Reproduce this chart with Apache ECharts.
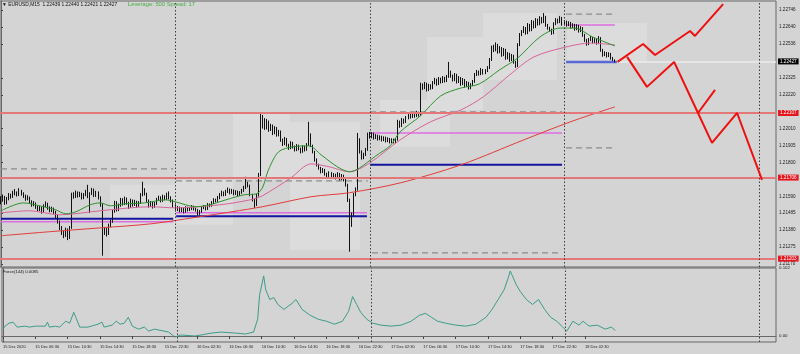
<!DOCTYPE html>
<html><head><meta charset="utf-8">
<script src="https://cdn.jsdelivr.net/npm/echarts@6/dist/echarts.min.js"></script>
<style>html,body{margin:0;padding:0;background:#d4d4d4;}#c{width:800px;height:354px;}</style>
</head><body><div id="c"></div>
<script>
// ---------------- data ----------------
const symbolName = 'EURUSD,M15';
const lastOHLC = [1.22439, 1.22440, 1.22421, 1.22427]; // O H L C shown in header
const leverageText = 'Leverage: 500 Spread: 17';
const forceName = 'Force(144)';
const xTickLabels = ['15 Dec 2020','15 Dec 06:30','15 Dec 10:30','15 Dec 14:30','15 Dec 18:30','15 Dec 22:30',
  '16 Dec 02:30','16 Dec 06:30','16 Dec 10:30','16 Dec 14:30','16 Dec 18:30','16 Dec 22:30',
  '17 Dec 02:30','17 Dec 06:30','17 Dec 10:30','17 Dec 14:30','17 Dec 18:30','17 Dec 22:30','18 Dec 02:30'];
const yTickValues = [1.21170,1.21275,1.21380,1.21485,1.21590,1.21800,1.21905,1.22010,1.22220,1.22325,1.22536,1.22640,1.22746];
const forceTickValues = [0.102, 0, -0.0042];
const daySeparators = [86, 182, 278, 374];
// candles: [open, close, low, high]
const candles = [
[1.21555,1.21568,1.21540,1.21590],[1.21568,1.21580,1.21556,1.21601],[1.21580,1.21549,1.21537,1.21592],[1.21549,1.21574,1.21540,1.21586],
[1.21574,1.21593,1.21565,1.21610],[1.21593,1.21587,1.21575,1.21606],[1.21587,1.21605,1.21580,1.21624],[1.21605,1.21612,1.21596,1.21635],
[1.21612,1.21599,1.21588,1.21620],[1.21599,1.21618,1.21592,1.21640],[1.21618,1.21605,1.21594,1.21630],[1.21605,1.21593,1.21580,1.21615],
[1.21593,1.21574,1.21562,1.21600],[1.21574,1.21580,1.21565,1.21596],[1.21580,1.21556,1.21545,1.21588],[1.21556,1.21537,1.21525,1.21565],
[1.21537,1.21543,1.21528,1.21560],[1.21543,1.21525,1.21512,1.21552],[1.21525,1.21506,1.21494,1.21533],[1.21506,1.21518,1.21498,1.21530],
[1.21518,1.21494,1.21482,1.21525],[1.21494,1.21531,1.21488,1.21540],[1.21531,1.21543,1.21522,1.21558],[1.21543,1.21518,1.21506,1.21550],
[1.21518,1.21500,1.21490,1.21528],[1.21500,1.21512,1.21492,1.21525],[1.21512,1.21494,1.21480,1.21520],[1.21494,1.21469,1.21455,1.21500],
[1.21469,1.21432,1.21420,1.21475],[1.21432,1.21394,1.21380,1.21440],[1.21394,1.21363,1.21350,1.21405],[1.21363,1.21345,1.21330,1.21375],
[1.21345,1.21382,1.21338,1.21395],[1.21382,1.21332,1.21318,1.21390],[1.21332,1.21394,1.21325,1.21405],[1.21394,1.21599,1.21388,1.21612],
[1.21599,1.21587,1.21575,1.21615],[1.21587,1.21612,1.21580,1.21625],[1.21612,1.21593,1.21582,1.21620],[1.21593,1.21605,1.21585,1.21618],
[1.21605,1.21580,1.21570,1.21612],[1.21580,1.21599,1.21572,1.21610],[1.21599,1.21618,1.21590,1.21630],[1.21618,1.21587,1.21578,1.21661],
[1.21587,1.21605,1.21487,1.21615],[1.21605,1.21630,1.21598,1.21642],[1.21630,1.21593,1.21585,1.21638],[1.21593,1.21612,1.21586,1.21624],
[1.21612,1.21580,1.21570,1.21620],[1.21580,1.21537,1.21525,1.21590],[1.21537,1.21370,1.21221,1.21545],[1.21370,1.21382,1.21350,1.21400],
[1.21382,1.21357,1.21340,1.21395],[1.21357,1.21407,1.21350,1.21420],[1.21407,1.21432,1.21398,1.21445],[1.21432,1.21494,1.21425,1.21505],
[1.21494,1.21549,1.21488,1.21562],[1.21549,1.21506,1.21495,1.21560],[1.21506,1.21531,1.21498,1.21545],[1.21531,1.21568,1.21525,1.21580],
[1.21568,1.21543,1.21532,1.21578],[1.21543,1.21574,1.21536,1.21588],[1.21574,1.21549,1.21538,1.21582],[1.21549,1.21525,1.21512,1.21556],
[1.21525,1.21562,1.21518,1.21575],[1.21562,1.21537,1.21526,1.21570],[1.21537,1.21556,1.21530,1.21568],[1.21556,1.21531,1.21520,1.21562],
[1.21531,1.21549,1.21524,1.21560],[1.21549,1.21599,1.21542,1.21610],[1.21599,1.21630,1.21590,1.21680],[1.21630,1.21605,1.21595,1.21640],
[1.21605,1.21562,1.21550,1.21612],[1.21562,1.21531,1.21520,1.21570],[1.21531,1.21549,1.21524,1.21560],[1.21549,1.21525,1.21514,1.21556],
[1.21525,1.21543,1.21518,1.21555],[1.21543,1.21568,1.21536,1.21580],[1.21568,1.21580,1.21560,1.21594],[1.21580,1.21562,1.21552,1.21590],
[1.21562,1.21587,1.21555,1.21600],[1.21587,1.21574,1.21565,1.21596],[1.21574,1.21599,1.21567,1.21612],[1.21599,1.21580,1.21570,1.21620],
[1.21580,1.21562,1.21552,1.21590],[1.21562,1.21531,1.21520,1.21570],[1.21531,1.21506,1.21495,1.21540],[1.21506,1.21518,1.21498,1.21530],
[1.21518,1.21500,1.21490,1.21526],[1.21500,1.21512,1.21492,1.21522],[1.21512,1.21494,1.21484,1.21520],[1.21494,1.21518,1.21488,1.21528],
[1.21518,1.21506,1.21496,1.21525],[1.21506,1.21512,1.21498,1.21522],[1.21512,1.21525,1.21504,1.21535],[1.21525,1.21512,1.21502,1.21532],
[1.21512,1.21506,1.21495,1.21520],[1.21506,1.21481,1.21470,1.21512],[1.21481,1.21494,1.21472,1.21505],[1.21494,1.21518,1.21488,1.21528],
[1.21518,1.21525,1.21510,1.21536],[1.21525,1.21512,1.21502,1.21532],[1.21512,1.21537,1.21505,1.21548],[1.21537,1.21531,1.21522,1.21545],
[1.21531,1.21549,1.21525,1.21560],[1.21549,1.21568,1.21542,1.21578],[1.21568,1.21562,1.21552,1.21575],[1.21562,1.21580,1.21555,1.21592],
[1.21580,1.21599,1.21572,1.21610],[1.21599,1.21612,1.21590,1.21625],[1.21612,1.21599,1.21590,1.21620],[1.21599,1.21618,1.21592,1.21630],
[1.21618,1.21630,1.21610,1.21645],[1.21630,1.21612,1.21602,1.21638],[1.21612,1.21624,1.21605,1.21636],[1.21624,1.21605,1.21596,1.21632],
[1.21605,1.21618,1.21598,1.21628],[1.21618,1.21599,1.21590,1.21625],[1.21599,1.21612,1.21592,1.21622],[1.21612,1.21624,1.21605,1.21636],
[1.21624,1.21642,1.21617,1.21655],[1.21642,1.21667,1.21635,1.21711],[1.21667,1.21655,1.21645,1.21680],[1.21655,1.21599,1.21590,1.21662],
[1.21599,1.21568,1.21558,1.21605],[1.21568,1.21537,1.21518,1.21575],[1.21537,1.21593,1.21530,1.21605],[1.21593,1.21723,1.21588,1.21735],
[1.21723,1.22033,1.21715,1.22107],[1.22033,1.22064,1.22010,1.22095],[1.22064,1.22014,1.22002,1.22075],[1.22014,1.22052,1.22005,1.22070],
[1.22052,1.22002,1.21990,1.22060],[1.22002,1.22027,1.21995,1.22040],[1.22027,1.21983,1.21970,1.22035],[1.21983,1.22014,1.21975,1.22025],
[1.22014,1.21971,1.21960,1.22020],[1.21971,1.21990,1.21962,1.22002],[1.21990,1.21940,1.21928,1.21998],[1.21940,1.21915,1.21902,1.21948],
[1.21915,1.21946,1.21908,1.21958],[1.21946,1.21909,1.21898,1.21952],[1.21909,1.21890,1.21878,1.21916],[1.21890,1.21921,1.21882,1.21932],
[1.21921,1.21897,1.21886,1.21928],[1.21897,1.21878,1.21868,1.21905],[1.21878,1.21903,1.21870,1.21914],[1.21903,1.21884,1.21875,1.21910],
[1.21884,1.21866,1.21856,1.21892],[1.21866,1.21897,1.21860,1.21906],[1.21897,1.21878,1.21868,1.21904],[1.21878,1.21909,1.21872,1.21920],
[1.21909,1.21971,1.21902,1.22052],[1.21971,1.21903,1.21895,1.21980],[1.21903,1.21866,1.21856,1.21910],[1.21866,1.21816,1.21805,1.21872],
[1.21816,1.21785,1.21775,1.21825],[1.21785,1.21766,1.21755,1.21792],[1.21766,1.21742,1.21732,1.21772],[1.21742,1.21754,1.21735,1.21765],
[1.21754,1.21729,1.21718,1.21760],[1.21729,1.21717,1.21706,1.21736],[1.21717,1.21735,1.21710,1.21745],[1.21735,1.21711,1.21700,1.21740],
[1.21711,1.21723,1.21704,1.21734],[1.21723,1.21704,1.21694,1.21730],[1.21704,1.21729,1.21698,1.21740],[1.21729,1.21698,1.21688,1.21735],
[1.21698,1.21717,1.21690,1.21728],[1.21717,1.21692,1.21682,1.21724],[1.21692,1.21661,1.21650,1.21700],[1.21661,1.21568,1.21555,1.21668],
[1.21568,1.21413,1.21246,1.21575],[1.21413,1.21475,1.21400,1.21490],[1.21475,1.21599,1.21468,1.21610],[1.21599,1.21630,1.21590,1.21645],
[1.21630,1.21940,1.21625,1.21983],[1.21940,1.21866,1.21855,1.21950],[1.21866,1.21828,1.21818,1.21875],[1.21828,1.21847,1.21820,1.21860],
[1.21847,1.21878,1.21840,1.21890],[1.21878,1.21971,1.21872,1.21985],[1.21971,1.21959,1.21948,1.21990],[1.21959,1.21977,1.21950,1.21988],
[1.21977,1.21952,1.21942,1.21985],[1.21952,1.21965,1.21945,1.21976],[1.21965,1.21946,1.21936,1.21972],[1.21946,1.21959,1.21938,1.21968],
[1.21959,1.21940,1.21930,1.21966],[1.21940,1.21952,1.21932,1.21962],[1.21952,1.21934,1.21924,1.21960],[1.21934,1.21946,1.21926,1.21956],
[1.21946,1.21928,1.21918,1.21952],[1.21928,1.21940,1.21920,1.21950],[1.21940,1.21928,1.21918,1.21948],[1.21928,1.21940,1.21920,1.21950],
[1.21940,1.22052,1.21935,1.22065],[1.22052,1.22027,1.22015,1.22060],[1.22027,1.22064,1.22020,1.22076],[1.22064,1.22052,1.22040,1.22072],
[1.22052,1.22076,1.22045,1.22088],[1.22076,1.22095,1.22068,1.22108],[1.22095,1.22083,1.22072,1.22102],[1.22083,1.22101,1.22076,1.22114],
[1.22101,1.22089,1.22078,1.22110],[1.22089,1.22107,1.22082,1.22120],[1.22107,1.22095,1.22085,1.22115],[1.22095,1.22281,1.22090,1.22295],
[1.22281,1.22262,1.22250,1.22290],[1.22262,1.22287,1.22255,1.22300],[1.22287,1.22250,1.22240,1.22295],[1.22250,1.22275,1.22243,1.22288],
[1.22275,1.22262,1.22252,1.22285],[1.22262,1.22293,1.22255,1.22305],[1.22293,1.22312,1.22285,1.22325],[1.22312,1.22287,1.22276,1.22320],
[1.22287,1.22318,1.22280,1.22330],[1.22318,1.22300,1.22290,1.22326],[1.22300,1.22324,1.22293,1.22336],[1.22324,1.22306,1.22296,1.22332],
[1.22306,1.22331,1.22299,1.22343],[1.22331,1.22362,1.22325,1.22424],[1.22362,1.22337,1.22326,1.22370],[1.22337,1.22312,1.22302,1.22345],
[1.22312,1.22343,1.22305,1.22355],[1.22343,1.22300,1.22290,1.22350],[1.22300,1.22324,1.22293,1.22336],[1.22324,1.22287,1.22276,1.22330],
[1.22287,1.22312,1.22280,1.22324],[1.22312,1.22275,1.22265,1.22318],[1.22275,1.22293,1.22268,1.22305],[1.22293,1.22262,1.22252,1.22300],
[1.22262,1.22281,1.22255,1.22292],[1.22281,1.22300,1.22274,1.22312],[1.22300,1.22343,1.22294,1.22355],[1.22343,1.22362,1.22336,1.22374],
[1.22362,1.22349,1.22339,1.22370],[1.22349,1.22374,1.22342,1.22386],[1.22374,1.22355,1.22345,1.22380],[1.22355,1.22368,1.22348,1.22379],
[1.22368,1.22386,1.22361,1.22398],[1.22386,1.22436,1.22380,1.22448],[1.22436,1.22510,1.22430,1.22525],[1.22510,1.22498,1.22485,1.22530],
[1.22498,1.22529,1.22490,1.22545],[1.22529,1.22486,1.22475,1.22536],[1.22486,1.22510,1.22478,1.22522],[1.22510,1.22467,1.22456,1.22516],
[1.22467,1.22498,1.22460,1.22510],[1.22498,1.22448,1.22437,1.22505],[1.22448,1.22473,1.22440,1.22485],[1.22473,1.22436,1.22425,1.22480],
[1.22436,1.22461,1.22429,1.22473],[1.22461,1.22424,1.22413,1.22468],[1.22424,1.22399,1.22387,1.22430],[1.22399,1.22529,1.22392,1.22540],
[1.22529,1.22591,1.22522,1.22603],[1.22591,1.22610,1.22584,1.22622],[1.22610,1.22634,1.22603,1.22646],[1.22634,1.22603,1.22593,1.22640],
[1.22603,1.22653,1.22596,1.22665],[1.22653,1.22622,1.22612,1.22660],[1.22622,1.22672,1.22615,1.22684],[1.22672,1.22641,1.22631,1.22680],
[1.22641,1.22684,1.22634,1.22696],[1.22684,1.22659,1.22649,1.22692],[1.22659,1.22696,1.22652,1.22708],[1.22696,1.22672,1.22662,1.22703],
[1.22672,1.22703,1.22665,1.22727],[1.22703,1.22653,1.22642,1.22710],[1.22653,1.22634,1.22624,1.22660],[1.22634,1.22622,1.22612,1.22642],
[1.22622,1.22603,1.22592,1.22630],[1.22603,1.22659,1.22596,1.22670],[1.22659,1.22684,1.22652,1.22696],[1.22684,1.22672,1.22662,1.22692],
[1.22672,1.22696,1.22665,1.22708],[1.22696,1.22659,1.22649,1.22703],[1.22659,1.22672,1.22650,1.22684],[1.22672,1.22653,1.22643,1.22680],
[1.22653,1.22665,1.22646,1.22676],[1.22665,1.22641,1.22631,1.22672],[1.22641,1.22653,1.22634,1.22664],[1.22653,1.22628,1.22618,1.22660],
[1.22628,1.22647,1.22621,1.22658],[1.22647,1.22616,1.22606,1.22654],[1.22616,1.22634,1.22609,1.22645],[1.22634,1.22591,1.22580,1.22640],
[1.22591,1.22560,1.22548,1.22598],[1.22560,1.22535,1.22524,1.22567],[1.22535,1.22560,1.22528,1.22572],[1.22560,1.22572,1.22553,1.22584],
[1.22572,1.22548,1.22538,1.22578],[1.22548,1.22560,1.22541,1.22571],[1.22560,1.22541,1.22531,1.22567],[1.22541,1.22572,1.22534,1.22584],
[1.22572,1.22498,1.22487,1.22578],[1.22498,1.22467,1.22456,1.22505],[1.22467,1.22479,1.22460,1.22490],[1.22479,1.22461,1.22451,1.22485],
[1.22461,1.22473,1.22454,1.22484],[1.22473,1.22448,1.22438,1.22480],[1.22448,1.22439,1.22430,1.22455],[1.22439,1.22427,1.22421,1.22440]
];
// moving averages: [bar, price]
const maFast = [[0,1.21500],[11,1.21549],[21,1.21525],[27,1.21506],[32,1.21481],[37,1.21494],[44,1.21537],[49,1.21549],[54,1.21531],[61,1.21543],
  [71,1.21549],[81,1.21568],[86,1.21556],[96,1.21525],[103,1.21537],[111,1.21568],[120,1.21599],[126,1.21605],[129,1.21642],[132,1.21754],
  [137,1.21866],[144,1.21897],[152,1.21903],[158,1.21847],[166,1.21773],[172,1.21742],[177,1.21766],[185,1.21841],[192,1.21903],[197,1.21990],
  [207,1.22089],[217,1.22213],[227,1.22262],[236,1.22287],[246,1.22374],[255,1.22448],[266,1.22579],[276,1.22634],[283,1.22634],[292,1.22579],[303,1.22523]];
const maMid = [[0,1.21487],[14,1.21500],[29,1.21475],[49,1.21500],[74,1.21525],[86,1.21518],[108,1.21537],[123,1.21568],[129,1.21593],[143,1.21704],
  [153,1.21791],[162,1.21773],[172,1.21742],[182,1.21797],[197,1.21940],[212,1.22052],[227,1.22126],[238,1.22207],[251,1.22343],[263,1.22455],
  [279,1.22517],[291,1.22541],[303,1.22529]];
const maSlow = [[0,1.21345],[24,1.21370],[49,1.21394],[74,1.21419],[98,1.21463],[129,1.21525],[153,1.21587],[172,1.21612],[197,1.21673],
  [227,1.21785],[258,1.21940],[281,1.22052],[303,1.22145]];
// Force(144): [bar, value]
const force = [[0,0.0103],[1,0.0148],[3,0.0192],[5,0.0207],[7,0.0133],[11,0.0148],[13,0.0133],[16,0.0148],[21,0.0148],[22,0.0207],[23,0.0133],
  [26,0.0148],[28,0.0133],[31,0.0222],[33,0.0192],[35,0.0355],[36,0.0281],[38,0.0133],[42,0.0133],[47,0.0177],[49,0.0207],[50,0.0133],[54,0.0163],
  [56,0.0222],[58,0.0177],[60,0.0192],[62,0.0281],[64,0.0148],[67,0.0103],[70,0.0133],[72,0.0074],[75,0.0103],[82,0.0059],[85,-0.0015],[88,0.0015],
  [95,0],[98,0.0015],[103,0.0044],[108,0.0059],[115,0.0044],[120,0.0030],[124,0.0059],[126,0.0251],[127,0.0621],[129,0.0902],[130,0.0695],
  [132,0.0547],[134,0.0576],[136,0.0473],[139,0.0399],[143,0.0488],[145,0.0547],[148,0.0399],[152,0.0310],[156,0.0251],[160,0.0222],[164,0.0177],
  [168,0.0222],[171,0.0370],[173,0.0591],[175,0.0473],[177,0.0355],[180,0.0251],[183,0.0192],[187,0.0163],[192,0.0148],[197,0.0163],[202,0.0222],
  [206,0.0310],[209,0.0340],[212,0.0281],[215,0.0222],[219,0.0192],[224,0.0163],[229,0.0148],[234,0.0177],[239,0.0281],[242,0.0399],[245,0.0547],
  [248,0.0695],[250,0.0872],[251,0.0975],[254,0.0769],[256,0.0665],[259,0.0547],[262,0.0473],[265,0.0547],[268,0.0399],[271,0.0281],[274,0.0222],
  [277,0.0133],[279,0.0074],[282,0.0222],[285,0.0163],[287,0.0222],[290,0.0148],[294,0.0163],[298,0.0103],[301,0.0133],[303,0.0085]];
// horizontal objects
const redLevels = [1.22107, 1.21706, 1.21203];
const dashedLevels = [[0,85,1.21760],[86.4,181,1.21686],[182.1,277,1.22114],[183.1,276,1.21239],[278.9,302,1.22721],[278.9,302,1.21890]]; // [fromBar,toBar,price]
const blueLevels = [[0,85,1.21450],[86.4,180.6,1.21466],[182.1,276.9,1.21785]];
const blueLevelToday = [[278.9,304,1.22424]];
const pinkLevels = [[0,85,1.21432],[86.4,180.6,1.21487],[182.1,276.9,1.21983],[278.9,303,1.22653]];
// projection zigzags [bar, price]
const zigUp = [[304.3,1.22424],[316.9,1.22535],[322.8,1.22467],[340.1,1.22616],[342.5,1.22585],[356.4,1.22783]];
const zigDown = [[309.0,1.22455],[318.8,1.22269],[332.2,1.22424],[344.0,1.22107],[350.9,1.21921],[363.3,1.22107],[375.6,1.21692]];
const zigBranch = [[344.0,1.22107],[352.4,1.22250]];
// shaded zones [fromBar, toBar, lowPrice, highPrice]
const zones = [[53.8,85.9,1.21196,1.21661],[85.9,114.5,1.21413,1.21692],[114.5,142.6,1.21692,1.22107],[142.6,177.2,1.21258,1.22052],
  [187.1,221.6,1.21897,1.22188],[210.3,237.9,1.22126,1.22579],[237.9,274.4,1.22312,1.22727],[279.4,318.8,1.22424,1.22665]];

// ---------------- chart ----------------
const NB = 383;
const categories = Array.from({length: NB}, (_, i) => String(i));
const FONT = '"Liberation Sans", Arial, "DejaVu Sans", sans-serif';
const lastClose = lastOHLC[3];
const tickFn = (i) => i % 16 === 0 && i / 16 < xTickLabels.length;

function segs(name, rows, color, width, type, z) {
  return rows.map((r, k) => ({
    type: 'line', name: name + k, xAxisIndex: 1, yAxisIndex: 0, silent: true, symbol: 'none', z: z,
    data: [[r[0], r[2]], [r[1], r[2]]], lineStyle: {color: color, width: width, type: type}
  }));
}
function poly(name, data, color, width, z, smooth) {
  return {type: 'line', name: name, xAxisIndex: 1, yAxisIndex: 0, silent: true, symbol: 'none', z: z,
    smooth: smooth || false, data: data, lineStyle: {color: color, width: width}};
}
function priceTag(v, bg, lineColor, fromBar) {
  return [
    {coord: [fromBar, v], lineStyle: {color: lineColor, width: 2, type: 'solid'},
      label: {show: true, position: 'end', distance: 2, formatter: v.toFixed(5), backgroundColor: bg,
        color: '#ffffff', fontSize: 4.6, padding: [1, 2, 0, 2], fontFamily: FONT}},
    {coord: [NB - 0.5, v]}
  ];
}

const chart = echarts.init(document.getElementById('c'), null, {renderer: 'canvas'});
const series = [];
series.push({
  type: 'custom', name: 'zones', xAxisIndex: 1, yAxisIndex: 0, silent: true, z: 0,
  data: zones, encode: {x: [0, 1], y: [2, 3]},
  renderItem: function (params, api) {
    const p1 = api.coord([api.value(0), api.value(3)]);
    const p2 = api.coord([api.value(1), api.value(2)]);
    return {type: 'rect', shape: {x: p1[0], y: p1[1], width: p2[0] - p1[0], height: p2[1] - p1[1]},
      style: {fill: '#dcdcdc'}};
  }
});
series.push(...segs('dash', dashedLevels, '#8c8c8c', 1.3, [6, 4], 2));
series.push(...segs('pink', pinkLevels, '#dc6ee0', 1.5, 'solid', 2));
series.push(...segs('blue', blueLevels, '#1414a0', 2, 'solid', 2));
series.push(...segs('blueT', blueLevelToday, '#5a68d8', 2.5, 'solid', 2));
const tagData = redLevels.map(v => priceTag(v, '#e8141e', '#e47878', -0.5));
const bid = priceTag(lastClose, '#000000', '#ececec', 304);
bid[0].lineStyle.width = 1.5;
tagData.push(bid);
series.push({
  type: 'line', name: 'levels', xAxisIndex: 1, yAxisIndex: 0, data: [[0, lastClose]], symbol: 'none',
  lineStyle: {opacity: 0}, silent: true, z: 2,
  markLine: {silent: true, symbol: ['none', 'none'], animation: false, data: tagData}
});
series.push({
  type: 'line', name: 'sep', xAxisIndex: 1, yAxisIndex: 0, data: [[0, lastClose]], symbol: 'none',
  lineStyle: {opacity: 0}, silent: true, z: 2,
  markLine: {silent: true, symbol: ['none', 'none'], label: {show: false},
    lineStyle: {color: '#3c3c3c', width: 1, type: [1.5, 2]}, data: daySeparators.map(v => ({xAxis: v}))}
});
series.push({
  type: 'candlestick', name: 'price', xAxisIndex: 0, yAxisIndex: 0, data: candles, z: 3, barWidth: 1,
  itemStyle: {color: '#cfcfcf', color0: '#111111', borderColor: '#111111', borderColor0: '#111111', borderWidth: 1}
});
series.push(poly('maSlow', maSlow, '#e33b3b', 1, 4, 0.3));
series.push(poly('maMid', maMid, '#d8629a', 1, 4, 0.3));
series.push(poly('maFast', maFast, '#2f912f', 1, 4, 0.3));
series.push(poly('zigUp', zigUp, '#ee1010', 2, 5));
series.push(poly('zigDown', zigDown, '#ee1010', 2, 5));
series.push(poly('zigBranch', zigBranch, '#ee1010', 2, 5));
series.push({
  type: 'line', name: 'force', xAxisIndex: 3, yAxisIndex: 1, data: force, symbol: 'none', silent: true, z: 3,
  lineStyle: {color: '#3d9c88', width: 1},
  markLine: {silent: true, symbol: ['none', 'none'], label: {show: false},
    data: [{yAxis: 0, lineStyle: {color: '#6a6a6a', width: 1, type: [2, 2]}}]
      .concat(daySeparators.map(v => ({xAxis: v, lineStyle: {color: '#3c3c3c', width: 1, type: [1.5, 2]}})))}
});

const option = {
  animation: false,
  backgroundColor: '#d4d4d4',
  textStyle: {fontFamily: FONT},
  grid: [
    {left: 0, top: 1, width: 776, height: 266, show: true, borderColor: '#666666', borderWidth: 1, backgroundColor: 'transparent'},
    {left: 0, top: 268, width: 776, height: 74, show: true, borderColor: '#666666', borderWidth: 1, backgroundColor: 'transparent'}
  ],
  xAxis: [
    {type: 'category', gridIndex: 0, data: categories, boundaryGap: true, show: false},
    {type: 'value', gridIndex: 0, min: -0.5, max: NB - 0.5, show: false},
    {type: 'category', gridIndex: 1, data: categories, boundaryGap: true, position: 'bottom',
      axisLine: {show: true, lineStyle: {color: '#666666'}},
      axisTick: {show: true, interval: tickFn, alignWithLabel: true, length: 3, lineStyle: {color: '#444444'}},
      axisLabel: {interval: tickFn, formatter: (v, i) => xTickLabels[i / 16], align: 'left', fontSize: 4, color: '#222222',
        margin: 2.5, fontFamily: FONT},
      splitLine: {show: false}},
    {type: 'value', gridIndex: 1, min: -0.5, max: NB - 0.5, show: false}
  ],
  yAxis: [
    {type: 'value', gridIndex: 0, position: 'right', min: 1.21151, max: 1.22802,
      axisLine: {show: true, lineStyle: {color: '#666666'}}, splitLine: {show: false},
      axisTick: {show: true, customValues: yTickValues, length: 2, lineStyle: {color: '#444444'}},
      axisLabel: {customValues: yTickValues, formatter: v => v.toFixed(5), fontSize: 4.6, color: '#222222', margin: 3, fontFamily: FONT}},
    {type: 'value', gridIndex: 1, position: 'right', min: -0.009, max: 0.102,
      axisLine: {show: true, lineStyle: {color: '#666666'}}, splitLine: {show: false},
      axisTick: {show: false},
      axisLabel: {customValues: forceTickValues, formatter: v => v === 0 ? '0.00' : (v > 0 ? v.toFixed(3) : v.toFixed(4)),
        fontSize: 4.4, color: '#222222', margin: 3, fontFamily: FONT}}
  ],
  graphic: [
    {type: 'text', left: 2, top: 2.5, silent: true, z: 10,
      style: {text: '\u25BC ' + symbolName + '  ' + lastOHLC.map(v => v.toFixed(5)).join(' '), fontSize: 4.9, fill: '#111111', fontFamily: FONT}},
    {type: 'text', left: 128, top: 1.8, silent: true, z: 10,
      style: {text: leverageText, fontSize: 5.8, fill: '#45ad45', fontFamily: FONT}},
    {type: 'text', left: 3, top: 270, silent: true, z: 10,
      style: {text: forceName + ' ' + force[force.length - 1][1].toFixed(4), fontSize: 4.3, fill: '#111111', fontFamily: FONT}}
  ],
  series: series
};
chart.setOption(option);
</script>
</body></html>
